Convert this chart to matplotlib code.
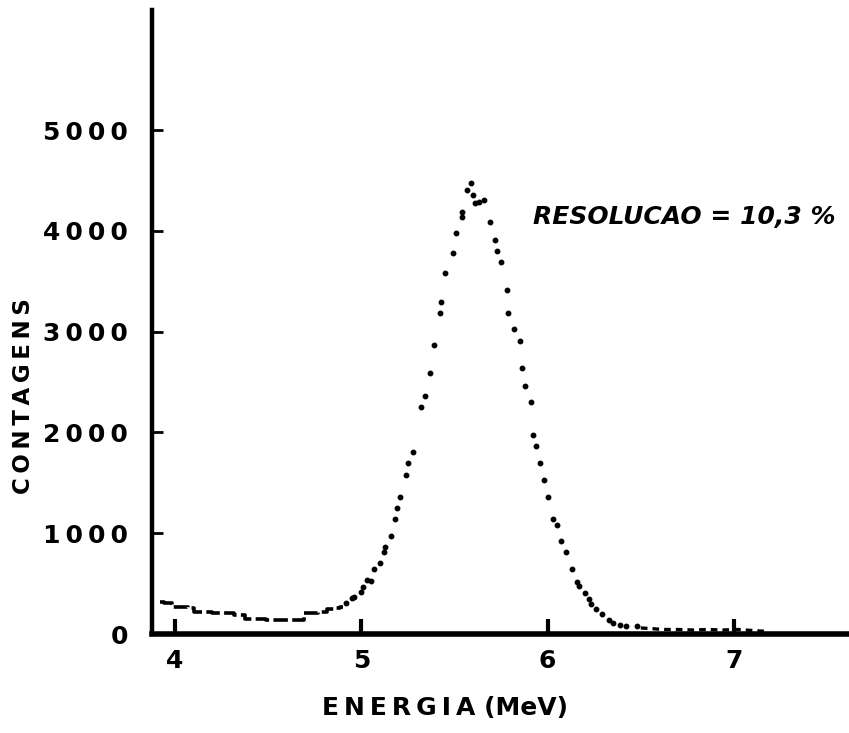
#!/usr/bin/env python3
"""Alpha spectrum: counts vs energy, with resolution note."""

import matplotlib.pyplot as plt

# low-energy continuum (drawn as a broken trace in the original)
low_energy = [3.92, 3.96, 4.01, 4.05, 4.09, 4.12, 4.17, 4.23, 4.28, 4.35,
              4.40, 4.45, 4.53, 4.60, 4.69, 4.70, 4.75, 4.79, 4.84, 4.87,
              4.90]
low_counts = [317, 307, 268, 265, 258, 218, 218, 208, 208, 188,
              149, 145, 139, 139, 139, 208, 212, 218, 250, 258,
              268]

# peak region, one dot per channel
energy = [
    4.92, 4.95, 4.96, 5.00, 5.01, 5.03,
    5.05, 5.07, 5.10, 5.12, 5.13, 5.16, 5.18, 5.19, 5.21, 5.24, 5.25, 5.28,
    5.32, 5.34, 5.37, 5.39, 5.42, 5.43, 5.45, 5.49, 5.51, 5.54, 5.54, 5.57,
    5.59, 5.60, 5.61, 5.63, 5.66, 5.69, 5.72, 5.73, 5.75, 5.78, 5.79, 5.82,
    5.85, 5.86, 5.88, 5.91, 5.92, 5.94, 5.96, 5.98, 6.00, 6.03, 6.05, 6.07,
    6.10, 6.13, 6.16, 6.17, 6.20, 6.22, 6.23, 6.26, 6.29, 6.33, 6.35, 6.39,
    6.42, 6.48,
]
counts = [
    307, 357, 367, 417, 466, 536,
    526, 645, 704, 813, 863, 972, 1141, 1250, 1359, 1577, 1696, 1805,
    2252, 2361, 2589, 2867, 3184, 3293, 3581, 3780, 3978, 4137, 4186, 4404,
    4474, 4355, 4276, 4285, 4305, 4087, 3909, 3800, 3690, 3412, 3184, 3026,
    2907, 2639, 2460, 2301, 1974, 1865, 1696, 1528, 1359, 1141, 1081, 922,
    813, 645, 516, 476, 407, 347, 298, 248, 198, 139, 109, 89,
    79, 79,
]

# high-energy tail, close to the axis
tail_energy = [6.50, 6.55, 6.62, 6.70, 6.78, 6.86, 6.94, 7.02, 7.10, 7.18]
tail_counts = [60, 55, 45, 45, 40, 45, 40, 45, 35, 25]

x_ticks = [4, 5, 6, 7]
y_ticks = [0, 1000, 2000, 3000, 4000, 5000]

fig = plt.figure(figsize=(8.49, 7.33), dpi=100)
ax = fig.add_axes([0.179, 0.135, 0.821, 0.851])

ax.plot(low_energy, low_counts, color="black", lw=2.6,
        linestyle=(0, (4, 1.2)), drawstyle="steps-mid")
ax.plot(energy, counts, linestyle="none", marker="o", markersize=3.2,
        color="black")
ax.plot(tail_energy, tail_counts, color="black", lw=2.4,
        linestyle=(0, (2, 1.5)))

ax.set_xlim(3.877, 7.617)
ax.set_ylim(0, 6190)

ax.spines["top"].set_visible(False)
ax.spines["right"].set_visible(False)
ax.spines["left"].set_linewidth(3.2)
ax.spines["bottom"].set_linewidth(4.0)

ax.set_xticks(x_ticks)
ax.set_yticks(y_ticks)
ax.set_xticklabels([str(t) for t in x_ticks], fontsize=18, fontweight="bold")
ax.set_yticklabels(["\u2009".join(str(t)) for t in y_ticks], fontsize=18,
                   fontweight="bold")
ax.tick_params(axis="x", direction="in", length=11, width=3, pad=11)
ax.tick_params(axis="y", direction="in", length=8, width=2, pad=17)

ax.set_xlabel("\u2009".join("ENERGIA") + " (MeV)", fontsize=18,
              fontweight="bold")
ax.xaxis.set_label_coords(0.42, -0.1)
ax.set_ylabel("\u2009".join("CONTAGENS"), fontsize=16.5, fontweight="bold")
ax.yaxis.set_label_coords(-0.168, 0.381)

ax.text(5.92, 4140, "RESOLUCAO = 10,3 %", fontsize=18, fontweight="bold",
        fontstyle="italic", ha="left", va="center")

fig.savefig("out.png", dpi=100)
